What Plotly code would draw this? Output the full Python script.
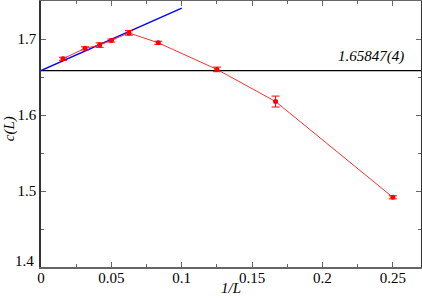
import plotly.graph_objects as go

inv_L = [1/64, 1/32, 1/24, 1/20, 1/16, 1/12, 1/8, 1/6, 1/4]
c_L = [1.674, 1.6877, 1.692, 1.698, 1.708, 1.695, 1.660, 1.6177, 1.4917]
c_err = [0.002, 0.002, 0.003, 0.002, 0.003, 0.002, 0.003, 0.0072, 0.002]

c_inf = 1.65847
c_inf_label = "1.65847(4)"
fit_x = [0.0, 0.1]
fit_y = [1.65847, 1.7407]
hline_x = [0.0, 0.27]
x_ticks = [0, 0.05, 0.1, 0.15, 0.2, 0.25]
x_ticktext = ["0", "0.05", "0.1", "0.15", "0.2", "0.25"]
y_ticks = [1.4, 1.5, 1.6, 1.7]
y_ticktext = ["", "1.5", "1.6", "1.7"]

font = "Liberation Serif"

fig = go.Figure()
fig.add_trace(go.Scatter(x=hline_x, y=[c_inf, c_inf], mode="lines",
                         line=dict(color="black", width=1.3), showlegend=False))
fig.add_trace(go.Scatter(x=fit_x, y=fit_y, mode="lines",
                         line=dict(color="#0000ff", width=1.3), showlegend=False))
fig.add_trace(go.Scatter(x=inv_L, y=c_L, mode="lines+markers",
                         line=dict(color="#ff3030", width=1),
                         marker=dict(color="red", size=5),
                         error_y=dict(type="data", array=c_err, color="red",
                                      thickness=1, width=4),
                         showlegend=False))
fig.add_annotation(x=0.2595, y=c_inf, xref="x", yref="y", text="<i>" + c_inf_label + "</i>",
                   showarrow=False, xanchor="right", yanchor="bottom", yshift=4,
                   font=dict(family=font, size=15, color="black"))
fig.add_annotation(x=-0.012, y=0.0, xref="paper", yref="paper", text="1.4",
                   showarrow=False, xanchor="right", yanchor="middle", yshift=6,
                   font=dict(family=font, size=15, color="black"))
fig.add_annotation(x=0.5, y=-0.078, xref="paper", yref="paper", text="<i>1/L</i>",
                   showarrow=False, xanchor="center", yanchor="middle",
                   font=dict(family=font, size=15, color="black"))
fig.add_annotation(x=-0.083, y=0.52, xref="paper", yref="paper", text="<i>c(L)</i>",
                   showarrow=False, xanchor="center", yanchor="middle", textangle=-90,
                   font=dict(family=font, size=15, color="black"))
fig.update_layout(
    width=422, height=298,
    margin=dict(l=41, r=1, t=1, b=31),
    plot_bgcolor="white", paper_bgcolor="white",
    font=dict(family=font, size=15, color="black"),
    xaxis=dict(range=[0, 0.27], tickvals=x_ticks, ticktext=x_ticktext,
               ticks="inside", ticklen=5, tickcolor="#666", showgrid=False,
               zeroline=False, showline=True, linecolor="#666", linewidth=1.5,
               mirror="ticks", automargin=False, ticklabelstandoff=-4,
               minor=dict(ticks="inside", dtick=0.025, ticklen=3, tickcolor="#666")),
    yaxis=dict(range=[1.4, 1.75], tickvals=y_ticks, ticktext=y_ticktext,
               ticks="inside", ticklen=5, tickcolor="#666", showgrid=False,
               zeroline=False, showline=True, linecolor="#333", linewidth=1.5,
               mirror="ticks", automargin=False,
               minor=dict(ticks="inside", dtick=0.05, ticklen=3, tickcolor="#666")),
)
fig.write_html("out.html", config={"displayModeBar": False},
               post_script="document.body.style.margin='0';")
